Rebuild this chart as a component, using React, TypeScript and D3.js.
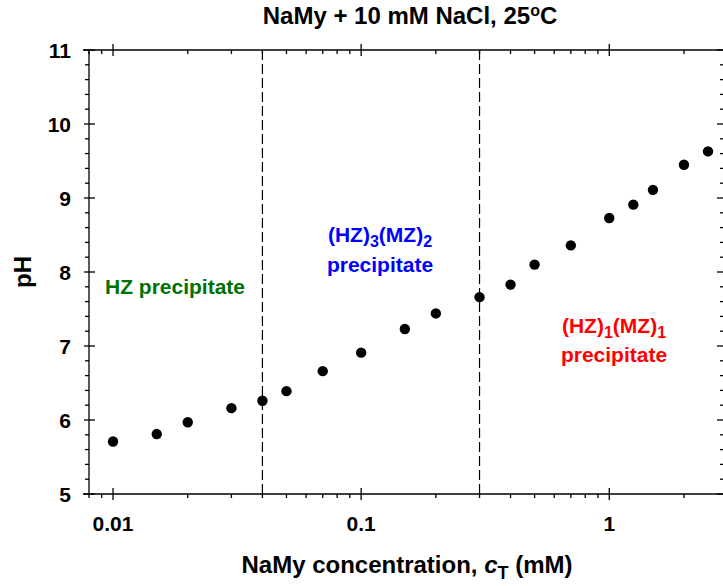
import React from 'react';
import * as d3 from 'd3';

// NaMy concentration (mM) and measured pH
const concentration = [0.01, 0.015, 0.02, 0.03, 0.04, 0.05, 0.07, 0.1, 0.15, 0.2, 0.3, 0.4, 0.5, 0.7, 1.0, 1.25, 1.5, 2.0, 2.5];
const pH = [5.71, 5.81, 5.97, 6.16, 6.26, 6.39, 6.66, 6.91, 7.23, 7.44, 7.66, 7.83, 8.10, 8.36, 8.73, 8.91, 9.11, 9.45, 9.63];

// phase boundaries (mM)
const boundaries = [0.04, 0.3];

const xMajorTicks = [0.01, 0.1, 1];
const xTickLabels = ['0.01', '0.1', '1'];
const yMajorTicks = [5, 6, 7, 8, 9, 10, 11];

const W = 723;
const H = 586;
const margin = { top: 50, right: -1, bottom: 92, left: 89 };
const FONT = 'Liberation Sans, Arial, Helvetica, sans-serif';

const App = () => {
    const x = d3.scaleLog().domain([0.008, 2.9]).range([margin.left, W - margin.right]);
    const y = d3.scaleLinear().domain([5, 11]).range([H - margin.bottom, margin.top]);

    const x0 = x.range()[0], x1 = x.range()[1];
    const y0 = y.range()[0], y1 = y.range()[1];

    // minor ticks of the log axis, 2..9 per decade
    const xMinor: number[] = [];
    [0.001, 0.01, 0.1, 1].forEach(dec => {
        for (let k = 2; k <= 9; k++) {
            const v = dec * k;
            if (v >= x.domain()[0] && v <= x.domain()[1]) xMinor.push(v);
        }
    });
    const yMinor = d3.range(5, 11.001, 0.2).filter(v => Math.abs(v - Math.round(v)) > 1e-6);

    const stroke = { stroke: '#000', strokeWidth: 1.3 };

    return (
        <svg width={W} height={H} style={{ position: 'absolute', left: 0, top: 0, background: '#fff' }}
            fontFamily={FONT} fontWeight="bold">
            {/* title */}
            <text x={410} y={24} textAnchor="middle" fontSize={24}>
                NaMy + 10 mM NaCl, 25<tspan dy={-8} fontSize={16}>o</tspan><tspan dy={8}>C</tspan>
            </text>

            {/* frame */}
            <line x1={x0 - 6} x2={x1 + 6} y1={y1} y2={y1} {...stroke} />
            <line x1={x0 - 6} x2={x1 + 6} y1={y0} y2={y0} {...stroke} />
            <line x1={x0} x2={x0} y1={y1} y2={y0} {...stroke} />
            <line x1={x1} x2={x1} y1={y1} y2={y0} {...stroke} />

            {/* x ticks */}
            {xMajorTicks.map((t, i) => (
                <g key={'xm' + t}>
                    <line x1={x(t)} x2={x(t)} y1={y0 - 6} y2={y0 + 6} {...stroke} />
                    <line x1={x(t)} x2={x(t)} y1={y1 - 6} y2={y1 + 6} {...stroke} />
                    <text x={x(t)} y={531} textAnchor="middle" fontSize={21}>{xTickLabels[i]}</text>
                </g>
            ))}
            {xMinor.map(t => (
                <g key={'xn' + t}>
                    <line x1={x(t)} x2={x(t)} y1={y0} y2={y0 + 4} {...stroke} />
                    <line x1={x(t)} x2={x(t)} y1={y1} y2={y1 + 4} {...stroke} />
                </g>
            ))}

            {/* y ticks */}
            {yMajorTicks.map(t => (
                <g key={'ym' + t}>
                    <line x1={x0 - 5} x2={x0 + 6} y1={y(t)} y2={y(t)} {...stroke} />
                    <line x1={x1 - 7} x2={x1 + 5} y1={y(t)} y2={y(t)} {...stroke} />
                    <text x={71} y={y(t)} dy="0.36em" textAnchor="end" fontSize={21}>{t}</text>
                </g>
            ))}
            {yMinor.map(t => (
                <g key={'yn' + t.toFixed(1)}>
                    <line x1={x0 - 4} x2={x0} y1={y(t)} y2={y(t)} {...stroke} />
                    <line x1={x1 - 4} x2={x1} y1={y(t)} y2={y(t)} {...stroke} />
                </g>
            ))}

            {/* phase boundaries */}
            {boundaries.map(b => (
                <line key={'b' + b} x1={x(b)} x2={x(b)} y1={y1} y2={y0}
                    stroke="#000" strokeWidth={1.2} strokeDasharray="10,4" />
            ))}

            {/* data */}
            {concentration.map((c, i) => (
                <circle key={'p' + i} cx={x(c)} cy={y(pH[i])} r={5.2} fill="#000" />
            ))}

            {/* region labels */}
            <text x={105} y={294} fontSize={21} fill="#007000">HZ precipitate</text>
            <text x={380} y={242} textAnchor="middle" fontSize={21} fill="#0000ff">
                (HZ)<tspan dy={5} fontSize={16}>3</tspan><tspan dy={-5}>(MZ)</tspan><tspan dy={5} fontSize={16}>2</tspan>
            </text>
            <text x={380} y={272} textAnchor="middle" fontSize={21} fill="#0000ff">precipitate</text>
            <text x={614} y={333} textAnchor="middle" fontSize={21} fill="#ff0000">
                (HZ)<tspan dy={5} fontSize={16}>1</tspan><tspan dy={-5}>(MZ)</tspan><tspan dy={5} fontSize={16}>1</tspan>
            </text>
            <text x={614} y={362} textAnchor="middle" fontSize={21} fill="#ff0000">precipitate</text>

            {/* axis titles */}
            <text x={407} y={573} textAnchor="middle" fontSize={24}>
                NaMy concentration, <tspan fontStyle="italic">c</tspan><tspan dy={6} fontSize={18}>T</tspan><tspan dy={-6}> (mM)</tspan>
            </text>
            <text transform={`translate(31,${(y0 + y1) / 2}) rotate(-90)`} textAnchor="middle" fontSize={24}>pH</text>
        </svg>
    );
};

export default App;
